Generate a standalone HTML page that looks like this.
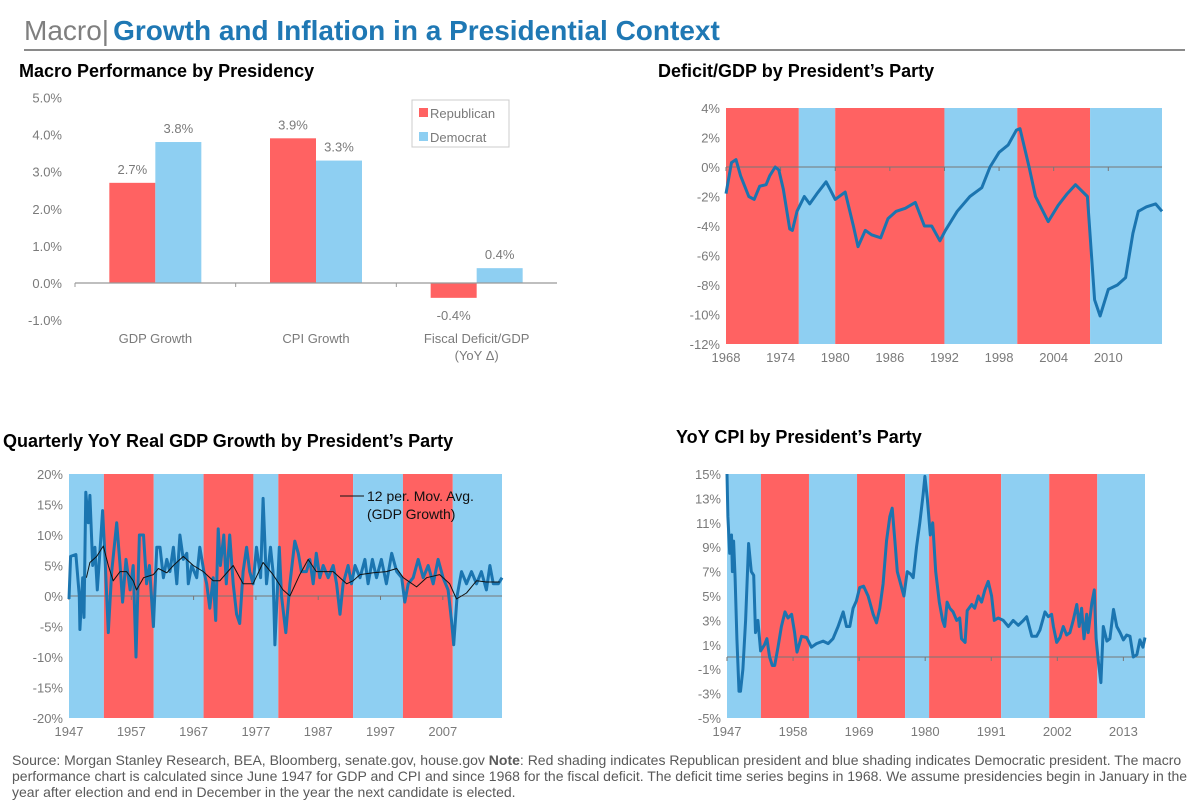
<!DOCTYPE html>
<html><head><meta charset="utf-8"><style>
html,body{margin:0;padding:0;background:#fff;}
svg{display:block;font-family:"Liberation Sans",Arial,sans-serif;}
.tk{fill:#7a7a7a;font-size:13px;}
.ttl{fill:#000;font-size:18px;font-weight:bold;}
</style></head><body>
<svg id="s" width="1200" height="808" viewBox="0 0 1200 808">
<text x="24" y="40" font-size="28" fill="#7f7f7f">Macro|<tspan fill="#1f78b4" font-weight="bold" dx="4">Growth and Inflation in a Presidential Context</tspan></text>
<line x1="24" y1="50" x2="1185" y2="50" stroke="#8a8a8a" stroke-width="2"/>
<text class="ttl" x="19" y="77">Macro Performance by Presidency</text>
<text class="ttl" x="658" y="77">Deficit/GDP by President’s Party</text>
<text class="ttl" x="3" y="447">Quarterly YoY Real GDP Growth by President’s Party</text>
<text class="ttl" x="676" y="443">YoY CPI by President’s Party</text>
<g id="bar"></g>
<g id="def"></g>
<g id="gdp"></g>
<g id="cpi"></g>
<text font-size="14" fill="#595959">
<tspan x="12" y="765">Source: Morgan Stanley Research, BEA, Bloomberg, senate.gov, house.gov <tspan font-weight="bold">Note</tspan>: Red shading indicates Republican president and blue shading indicates Democratic president. The macro</tspan>
<tspan x="12" y="781">performance chart is calculated since June 1947 for GDP and CPI and since 1968 for the fiscal deficit. The deficit time series begins in 1968. We assume presidencies begin in January in the</tspan>
<tspan x="12" y="797">year after election and end in December in the year the next candidate is elected.</tspan>
</text>
</svg>
<script>
const NS='http://www.w3.org/2000/svg';
const RED='#ff6262', BLUE='#8ecff2', LINE='#1b75b0';
// ---- bar chart data
const barCategories=['GDP Growth','CPI Growth','Fiscal Deficit/GDP'];
const republicanValues=[2.7,3.9,-0.4];
const democratValues=[3.8,3.3,0.4];
const barTicks=[5,4,3,2,1,0,-1];
// ---- party terms
const partyStarts=[1945,1953,1961,1969,1977,1981,1993,2001,2009];
const partyNames=['D','R','D','R','D','R','D','R','D'];
// ---- deficit
const defYears=[1969,1969.6,1970.1,1970.6,1971.5,1972.1,1972.7,1973.4,1973.8,1974.4,1974.8,1975.3,1976,1976.3,1976.8,1977.6,1978.2,1979,1980,1980.5,1981,1982.1,1983,1983.5,1984.3,1985,1986,1986.8,1987.7,1988.7,1989.8,1990.8,1991.6,1992.5,1993.1,1994.4,1995.8,1997.1,1998,1999,2000,2000.9,2001.3,2002.3,2003,2004.4,2005.5,2006.5,2007.4,2008.7,2009.5,2010.1,2011,2012,2012.9,2013.7,2014.3,2015.2,2016.2,2016.9];
const defValues=[-1.8,0.3,0.5,-0.6,-2.0,-2.2,-1.3,-1.2,-0.6,0,-0.2,-1.5,-4.2,-4.3,-3.0,-2.0,-2.5,-1.8,-1.0,-1.6,-2.2,-1.7,-4.0,-5.4,-4.3,-4.6,-4.8,-3.5,-3.0,-2.8,-2.4,-4.0,-4.0,-5.0,-4.3,-3.0,-2.0,-1.4,0,1.0,1.5,2.5,2.6,0,-2.0,-3.7,-2.6,-1.8,-1.2,-2.0,-9.0,-10.1,-8.3,-8.0,-7.5,-4.5,-3.0,-2.7,-2.5,-3.0];
const defTicks=[4,2,0,-2,-4,-6,-8,-10,-12];
const defXLabels=['1968','1974','1980','1986','1992','1998','2004','2010'];
// ---- GDP
const gdpYears=[1947.4,1947.65,1948.5,1949.05,1949.15,1949.6,1949.8,1950.1,1950.5,1950.75,1951.2,1951.55,1951.95,1952.35,1952.8,1953.2,1953.7,1954.25,1955.05,1955.6,1956,1956.55,1957.2,1957.7,1958.15,1958.7,1959.35,1959.85,1960.3,1960.95,1961.5,1962,1962.55,1963.1,1963.6,1964.15,1964.7,1965.2,1965.75,1966.3,1966.55,1967.1,1967.9,1968.4,1969.05,1969.5,1970,1970.55,1970.95,1971.35,1971.7,1972.25,1972.65,1973.2,1973.75,1974.3,1974.8,1975.35,1975.9,1976.4,1976.95,1977.5,1978.15,1978.55,1979.1,1979.75,1980.15,1980.45,1981.15,1981.5,1982.2,1982.85,1983.65,1984.2,1984.7,1985.5,1986.05,1986.6,1987.1,1987.65,1988.2,1989,1989.8,1990.35,1990.9,1991.4,1992.2,1992.75,1993.3,1994.1,1994.9,1995.4,1996.1,1996.75,1997.55,1998.35,1999.2,2000,2000.8,2001.3,2001.85,2002.65,2003.45,2004.25,2005.05,2005.85,2006.65,2007.45,2008.25,2008.8,2009.15,2009.7,2010.4,2011.2,2012,2012.8,2013.6,2014.4,2014.95,2015.5,2016.3,2016.9];
const gdpValues=[-0.5,6.5,6.8,0,-5.5,3,-3.5,17,12,16.5,5,8,1,7,14,6,-6,4,12,5,-1,6,1,5,-10,10,10,2,5,-5,8,8,3,6,4,8,2,10,6,7,2,5,3,8,4,2,-2,3,-4,11,5,10,2,10,2,-3,-4.5,4,8,4,2,8,3,16,2,8,4,-8,8,0,-6,2,9,7,4,4,6,2,7,3,5,3,5,2,-3,2,5,2,5,3,6,2,6,3,6,2,7,4,3,-1,2,3,6,3,5,2,6,3,1,-4,-8,0,4,2,4,2,4,1,5,2,2,3];
const maYears=[1950.2,1950.75,1951.85,1952.9,1953.7,1954.5,1955.6,1956.65,1957.7,1958.25,1959.35,1960.95,1961.75,1963.1,1964.15,1965.75,1967.35,1968.95,1970.55,1971.6,1973.75,1975.35,1976.95,1978.55,1980.15,1981.75,1982.85,1984.45,1985.8,1987.1,1989.8,1991.95,1993,1994.1,1996.25,1998.35,2000,2001.05,2003.2,2004.8,2006.9,2008.5,2009.6,2011.2,2012.8,2014.4,2016.55];
const maValues=[3,5.5,6.5,8.2,5,2.5,4,4,2.5,1,3,3.5,4.5,3.8,5,6.5,5,4,2.5,2.5,5,2,2,5.5,3.5,1,0,3.5,6,4,4,2,2.5,3.5,3.8,4,4.5,3,1.5,3,3.5,2,-0.5,0.5,2.5,2.3,2.3];
const gdpTicks=[20,15,10,5,0,-5,-10,-15,-20];
const gdpXLabels=['1947','1957','1967','1977','1987','1997','2007'];
// ---- CPI
const cpiYears=[1947.35,1947.5,1947.8,1948.1,1948.25,1948.45,1948.7,1949,1949.35,1949.6,1950,1950.45,1950.95,1951.4,1951.8,1952.1,1952.5,1952.95,1953.6,1954,1954.45,1954.9,1955.3,1955.85,1956.4,1957,1957.5,1958.1,1958.6,1959,1959.75,1960.6,1961.4,1962.25,1963.35,1964.2,1965,1965.85,1966.7,1967.25,1967.8,1968.35,1968.9,1969.45,1970.1,1970.85,1971.7,1972.25,1972.8,1973.35,1973.9,1974.45,1974.85,1975.3,1975.7,1976.25,1976.8,1977.35,1977.9,1978.35,1978.9,1979.45,1980,1980.3,1980.7,1981.2,1981.6,1982.1,1982.7,1983.25,1983.6,1984,1984.45,1985,1985.6,1986.1,1986.4,1987,1987.35,1988.1,1988.6,1989.2,1989.75,1990.3,1990.85,1991.4,1991.85,1992.5,1993.35,1994.2,1995,1995.85,1996.7,1997.25,1998.1,1998.9,1999.45,2000.3,2000.85,2001.4,2001.7,2002.25,2002.8,2003.35,2003.9,2004.45,2005,2005.6,2006,2006.4,2006.8,2007.25,2007.5,2008.1,2008.5,2008.8,2009.2,2009.6,2010,2010.6,2011.1,2011.7,2012.25,2012.8,2013.35,2013.9,2014.45,2015,2015.6,2016.1,2016.6,2016.95];
const cpiValues=[15,11.5,8.5,10,7,9.5,6.5,1.5,-2.8,-2.8,-1,3,9.3,7,6.7,2,3,0.5,1,1.5,0,-0.7,-0.7,0.8,2.5,3.7,3.2,3.5,2,0.4,1.7,1.6,0.8,1.1,1.3,1.1,1.5,2.5,3.7,2.5,2.5,4,4.6,5.7,5.8,5,3.5,2.8,4,6,9.5,11.5,12.2,9.5,7,6,5,7,6.8,6.5,9,11,13.3,14.8,13,10,11,7,4.5,3,2.5,4.5,4,3.7,3,3.2,1.5,1.2,3.8,4.3,4,5,4.5,5.5,6.2,5,3,3.2,3,2.5,3,2.6,3,3.3,1.7,1.7,2.2,3.7,3.3,3.5,2.5,1.2,1.6,2.5,1.8,2,3,4.3,2.5,4,1.5,3.5,2,4.4,5.5,1.5,-0.5,-2.1,2.5,1.3,1.5,3.9,2.5,2,1.4,1.8,1.7,0,0.2,1.4,0.8,1.6];
const cpiTicks=[15,13,11,9,7,5,3,1,-1,-3,-5];
const cpiXLabels=['1947','1958','1969','1980','1991','2002','2013'];

function el(parent,tag,attrs,text){const e=document.createElementNS(NS,tag);for(const k in attrs)e.setAttribute(k,attrs[k]);if(text!==undefined)e.textContent=text;parent.appendChild(e);return e;}
function fmt(v,d){return v.toFixed(d)+'%';}

// ===== bar chart
(function(){
  const g=document.getElementById('bar');
  const x0=75,x1=557,y=v=>283-v*37.1;
  const cw=(x1-x0)/barCategories.length;
  barTicks.forEach(t=>{const e=el(g,'text',{x:62,y:y(t)+5,'text-anchor':'end',class:'tk','font-size':'14'},fmt(t,1));
    
    });
  barCategories.forEach((c,i)=>{
    const cx=x0+cw*(i+0.5);
    [[republicanValues[i],RED,-1,'republican'],[democratValues[i],BLUE,0,'democrat']].forEach(([v,col,off,nm])=>{
      const bx=cx+off*46;
      const r=el(g,'rect',{x:bx,y:Math.min(y(v),y(0)),width:46,height:Math.abs(y(v)-y(0)),fill:col});
      
      
      const lt=el(g,'text',{x:bx+23,y:v>=0?y(v)-9:y(v)+22,'text-anchor':'middle',class:'tk','font-size':'14'},fmt(v,1));
      
      
    });
    const lines=c==='Fiscal Deficit/GDP'?['Fiscal Deficit/GDP','(YoY Δ)']:[c];
    lines.forEach((ln,j)=>{const t=el(g,'text',{x:cx,y:343+j*17,'text-anchor':'middle',class:'tk','font-size':'14'},ln);
      
      });
    const tk=el(g,'line',{x1:x0+cw*i,x2:x0+cw*i,y1:y(0),y2:y(0)+4,stroke:'#999'});
    
    
  });
  const ax=el(g,'line',{x1:x0,x2:x1,y1:y(0),y2:y(0),stroke:'#999','stroke-width':1.2});
  
  
  const lg=el(g,'g',{});
  
  
  el(lg,'rect',{x:412,y:100,width:97,height:47,fill:'#fff',stroke:'#ccc'});
  [['Republican',RED,118],['Democrat',BLUE,142]].forEach(([n,c,yy])=>{
    el(lg,'rect',{x:419,y:yy-10,width:9,height:9,fill:c});
    const t=el(lg,'text',{x:430,y:yy,class:'tk','font-size':'14'},n);
    
    
  });
})();

// ===== generic time chart
function timeChart(id,o){
  const g=document.getElementById(id);
  const X=t=>o.L+(t-o.t0)/(o.t1-o.t0)*(o.R-o.L);
  const Y=v=>o.T+(o.vmax-v)/(o.vmax-o.vmin)*(o.B-o.T);
  for(let i=0;i<partyStarts.length;i++){
    const s=Math.max(partyStarts[i],o.t0), e=Math.min(i+1<partyStarts.length?partyStarts[i+1]:9999,o.t1);
    if(e<=s) continue;
    const r=el(g,'rect',{x:X(s),y:o.T,width:X(e)-X(s),height:o.B-o.T,fill:partyNames[i]==='R'?RED:BLUE});
    
    
  }
  const z=el(g,'line',{x1:o.L,x2:o.R,y1:Y(0),y2:Y(0),stroke:'#777','stroke-width':1});
  
  
  o.xl.forEach((lb,i)=>{const tx=X(o.lt0+i*o.lstep);
    const tk=el(g,'line',{x1:tx,x2:tx,y1:Y(0),y2:Y(0)+4,stroke:'#777'});
    
    
    const t=el(g,'text',{x:tx,y:o.B+18,'text-anchor':'middle',class:'tk','font-size':'14'},lb);
    
    });
  o.yt.forEach(v=>{const t=el(g,'text',{x:o.L-6,y:Y(v)+5,'text-anchor':'end',class:'tk','font-size':'14'},v+'%');
    
    });
  o.series.forEach(sr=>{
    const p=el(g,'polyline',{points:sr.x.map((t,i)=>X(t).toFixed(1)+','+Y(sr.y[i]).toFixed(1)).join(' '),fill:'none',stroke:sr.c,'stroke-width':sr.w,'stroke-linejoin':'round'});
    
    
  });
  return {g,X,Y};
}
timeChart('def',{L:726,R:1162,T:108,B:344,t0:1969,t1:2016.9,vmin:-12,vmax:4,yt:defTicks,xl:defXLabels,lt0:1969,lstep:6,
  series:[{x:defYears,y:defValues,c:LINE,w:3,n:'deficit-line'}]});
const gc=timeChart('gdp',{L:69,R:502,T:474,B:718,t0:1947.4,t1:2016.9,vmin:-20,vmax:20,yt:gdpTicks,xl:gdpXLabels,lt0:1947.4,lstep:10,
  series:[{x:gdpYears,y:gdpValues,c:LINE,w:3,n:'gdp-growth-line'},{x:maYears,y:maValues,c:'#111',w:1,n:'moving-average-line'}]});
(function(){const g=gc.g;
  const lg=el(g,'g',{});
  
  
  el(lg,'line',{x1:340,x2:364,y1:496,y2:496,stroke:'#111','stroke-width':1});
  el(lg,'text',{x:367,y:501,'font-size':'14',fill:'#111'},'12 per. Mov. Avg.');
  el(lg,'text',{x:367,y:519,'font-size':'14',fill:'#111'},'(GDP Growth)');
})();
timeChart('cpi',{L:727,R:1145,T:474,B:718,t0:1947.35,t1:2016.95,vmin:-5,vmax:15,yt:cpiTicks,xl:cpiXLabels,lt0:1947.35,lstep:11,
  series:[{x:cpiYears,y:cpiValues,c:LINE,w:3,n:'cpi-line'}]});
</script>
</body></html>
